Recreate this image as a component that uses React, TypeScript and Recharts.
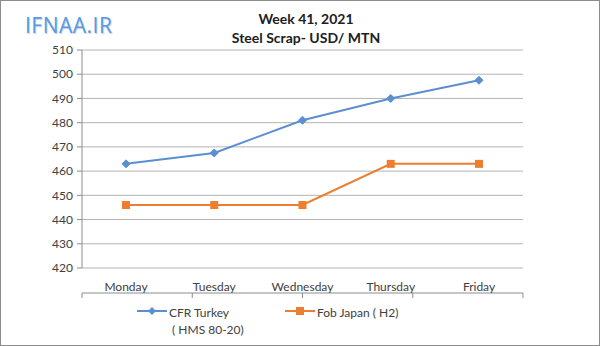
import { LineChart, Line, XAxis, YAxis, CartesianGrid, Legend } from "recharts";

const days = ["Monday", "Tuesday", "Wednesday", "Thursday", "Friday"];
const cfrTurkey = [463, 467.5, 481, 490, 497.5];
const fobJapan = [446, 446, 446, 463, 463];
const yTicks = [420, 430, 440, 450, 460, 470, 480, 490, 500, 510];
const edgeTicks = [0, 1, 2, 3, 4, 5];

const seriesNames = ["CFR Turkey ( HMS 80-20)", "Fob Japan ( H2)"];
const colors = ["#5b8fd0", "#ed7d31"];

const data = days.map((day, i) => ({
  day,
  cfr: cfrTurkey[i],
  fob: fobJapan[i],
}));

const font = "Lato, 'Open Sans', sans-serif";

const Diamond = (props: any) => {
  const { cx, cy } = props;
  if (cx == null || cy == null) return null;
  const r = 4;
  return (
    <path
      d={`M${cx},${cy - r} L${cx + r},${cy} L${cx},${cy + r} L${cx - r},${cy} Z`}
      fill={colors[0]}
      stroke={colors[0]}
    />
  );
};

const Square = (props: any) => {
  const { cx, cy } = props;
  if (cx == null || cy == null) return null;
  return <rect x={cx - 4} y={cy - 4} width={8} height={8} fill={colors[1]} />;
};

function LegendBox() {
  return (
    <div style={{ height: 36, position: "relative", fontFamily: font, fontSize: 12, color: "#404040" }}>
      <div style={{ position: "absolute", left: 137, top: 6, display: "flex" }}>
        <svg width={32} height={14}>
          <line x1={0} y1={7} x2={30} y2={7} stroke={colors[0]} strokeWidth={2} />
          <path d="M15,3 L19,7 L15,11 L11,7 Z" fill={colors[0]} />
        </svg>
        <div style={{ width: 80, lineHeight: "17px" }}>
          CFR Turkey<br />&nbsp;( HMS 80-20)
        </div>
      </div>
      <div style={{ position: "absolute", left: 285, top: 6, display: "flex" }}>
        <svg width={32} height={14}>
          <line x1={0} y1={7} x2={30} y2={7} stroke={colors[1]} strokeWidth={2} />
          <rect x={11} y={3} width={8} height={8} fill={colors[1]} />
        </svg>
        <div style={{ lineHeight: "17px" }}>{seriesNames[1]}</div>
      </div>
    </div>
  );
}

export default function App() {
  return (
    <div
      style={{
        position: "absolute",
        left: 0,
        top: 0,
        width: 600,
        height: 346,
        background: "#fff",
        boxSizing: "border-box",
        border: "1px solid #8c8c8c",
        fontFamily: font,
      }}
    >
      <div
        style={{
          position: "absolute",
          left: 24,
          top: 10,
          fontSize: 21,
          color: "#5a9ae0",
          fontFamily: "'Open Sans', sans-serif",
          letterSpacing: 0.5,
          textShadow: "1px 1px 1px #b8cde8",
        }}
      >
        IFNAA.IR
      </div>
      <div
        style={{
          position: "absolute",
          left: 0,
          width: 610,
          top: 8,
          textAlign: "center",
          fontSize: 14,
          fontWeight: "bold",
          color: "#202020",
          lineHeight: "19px",
        }}
      >
        Week 41, 2021
        <br />
        Steel Scrap- USD/ MTN
      </div>
      <div style={{ position: "absolute", left: -1, top: -1 }}>
        <LineChart width={600} height={346} data={data} margin={{ top: 50, right: 77, bottom: 12, left: 0 }}>
          <CartesianGrid vertical={false} stroke="#b4b4b4" xAxisId="cat" />
          <XAxis
            xAxisId="edge"
            type="number"
            domain={[0, 5]}
            ticks={edgeTicks}
            allowDataOverflow
            tick={() => <g />}
            tickSize={5}
            height={5}
            stroke="#8c8c8c"
          />
          <XAxis
            xAxisId="cat"
            dataKey="day"
            axisLine={false}
            tickLine={false}
            height={25}
            padding={{ left: 44, right: 44 }}
            tick={{ fill: "#404040", fontSize: 12, fontFamily: font }}
            tickMargin={8}
          />
          <YAxis
            domain={[420, 510]}
            ticks={yTicks}
            width={82}
            tickSize={5}
            stroke="#8c8c8c"
            tick={{ fill: "#404040", fontSize: 12, fontFamily: font }}
            tickMargin={4}
          />
          <Legend verticalAlign="bottom" content={() => <LegendBox />} />
          <Line
            xAxisId="cat"
            dataKey="cfr"
            name={seriesNames[0]}
            stroke={colors[0]}
            strokeWidth={2}
            dot={<Diamond />}
            isAnimationActive={false}
          />
          <Line
            xAxisId="cat"
            dataKey="fob"
            name={seriesNames[1]}
            stroke={colors[1]}
            strokeWidth={2}
            dot={<Square />}
            isAnimationActive={false}
          />
        </LineChart>
      </div>
    </div>
  );
}
